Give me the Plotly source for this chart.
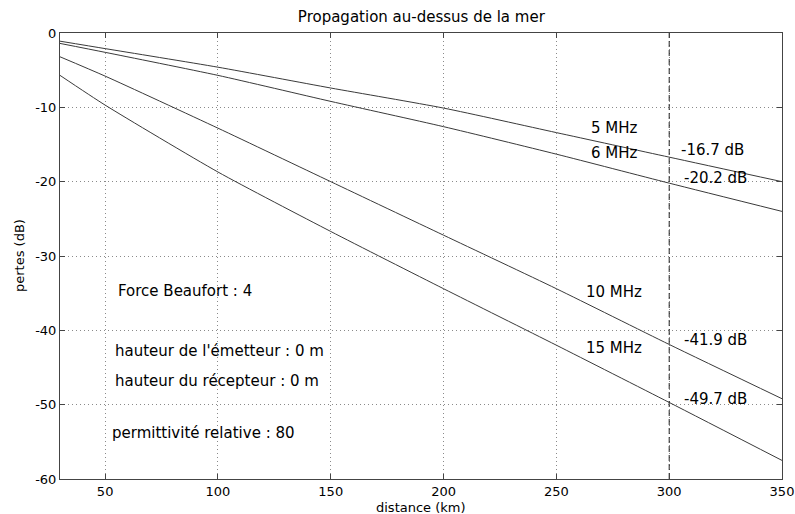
import plotly.graph_objects as go

# Distances (km) where the loss curves are sampled
distance_km = [30, 50, 100, 150, 200, 250, 300, 350]

# Propagation loss (dB) over sea for each frequency
loss_5mhz = [-1.1, -2.1, -4.6, -7.4, -10.1, -13.4, -16.7, -20.0]
loss_6mhz = [-1.4, -2.6, -5.7, -9.2, -12.6, -16.3, -20.2, -24.0]
loss_10mhz = [-3.2, -5.8, -12.8, -20.0, -27.2, -34.4, -41.9, -49.2]
loss_15mhz = [-5.7, -9.7, -18.7, -26.7, -34.4, -42.0, -49.7, -57.5]

series = [
    ("5 MHz", loss_5mhz),
    ("6 MHz", loss_6mhz),
    ("10 MHz", loss_10mhz),
    ("15 MHz", loss_15mhz),
]

# Reference distance and the losses read there
ref_distance = 300
ref_labels = ["-16.7 dB", "-20.2 dB", "-41.9 dB", "-49.7 dB"]

x_ticks = [50, 100, 150, 200, 250, 300, 350]
y_ticks = [-60, -50, -40, -30, -20, -10, 0]
y_tick_text = ["-60", "-50", "-40", "-30", "-20", "-10", "0"]

FONT = "DejaVu Sans, Verdana, sans-serif"
TEXT_SIZE = 15
TICK_SIZE = 13

# Plot-area geometry in pixels
W, H = 795, 514
M_L, M_R, M_T, M_B = 60, 13, 33, 35
PLOT_W = W - M_L - M_R
PLOT_H = H - M_T - M_B

fig = go.Figure()
for name, vals in series:
    fig.add_trace(go.Scatter(
        x=distance_km, y=vals, mode="lines", name=name,
        line=dict(color="#3a3a3a", width=1, shape="spline", smoothing=0.6),
        showlegend=False, hoverinfo="skip",
    ))

# Dashed marker at the reference distance
fig.add_trace(go.Scatter(
    x=[ref_distance, ref_distance], y=[-60, 0], mode="lines",
    line=dict(color="#222222", width=1, dash="6px,3px"),
    showlegend=False, hoverinfo="skip",
))

def label(x, y, text):
    fig.add_annotation(x=x, y=y, text=text, showarrow=False,
                       xanchor="left", yanchor="middle",
                       font=dict(family=FONT, size=TEXT_SIZE, color="black"))

# Frequency labels
label(264.5, -12.8, "5 MHz")
label(264.5, -16.2, "6 MHz")
label(262.3, -34.9, "10 MHz")
label(262.3, -42.4, "15 MHz")

# Loss values at the reference distance
label(304.5, -15.7, ref_labels[0])
label(305.5, -19.5, ref_labels[1])
label(305.5, -41.3, ref_labels[2])
label(305.5, -49.3, ref_labels[3])

# Simulation parameters
label(54.8, -34.7, "Force Beaufort : 4")
label(53.4, -42.8, "hauteur de l'émetteur : 0 m")
label(53.4, -46.8, "hauteur du récepteur : 0 m")
label(52.3, -53.8, "permittivité relative : 80")

# Axis titles, placed in paper coordinates
fig.add_annotation(xref="paper", yref="paper",
                   x=0.5, y=-(507 - (H - M_B)) / PLOT_H,
                   text="distance (km)", showarrow=False,
                   xanchor="center", yanchor="middle",
                   font=dict(family=FONT, size=TICK_SIZE, color="black"))
fig.add_annotation(xref="paper", yref="paper",
                   x=(19 - M_L) / PLOT_W, y=0.5, textangle=-90,
                   text="pertes (dB)", showarrow=False,
                   xanchor="center", yanchor="middle",
                   font=dict(family=FONT, size=TICK_SIZE, color="black"))

axis_common = dict(
    showline=True, linecolor="#444444", linewidth=1, mirror="allticks",
    ticks="inside", ticklen=5, tickcolor="#444444",
    showgrid=True, gridcolor="#8a8a8a", gridwidth=1, griddash="1px,3px",
    zeroline=False, automargin=False, ticklabeloverflow="allow",
    tickfont=dict(family=FONT, size=TICK_SIZE, color="black"),
)

fig.update_xaxes(range=[30, 350], tickvals=x_ticks, **axis_common)
fig.update_yaxes(range=[-60, 0], tickvals=y_ticks, ticktext=y_tick_text,
                 **axis_common)

fig.update_layout(
    width=W, height=H,
    margin=dict(l=M_L, r=M_R, t=M_T, b=M_B, autoexpand=False),
    paper_bgcolor="white", plot_bgcolor="white",
    title=dict(text="Propagation au-dessus de la mer", x=0.530, xanchor="center",
               y=1 - 17 / H, yanchor="middle",
               font=dict(family=FONT, size=TEXT_SIZE, color="black")),
)

fig.write_html("out.html")
